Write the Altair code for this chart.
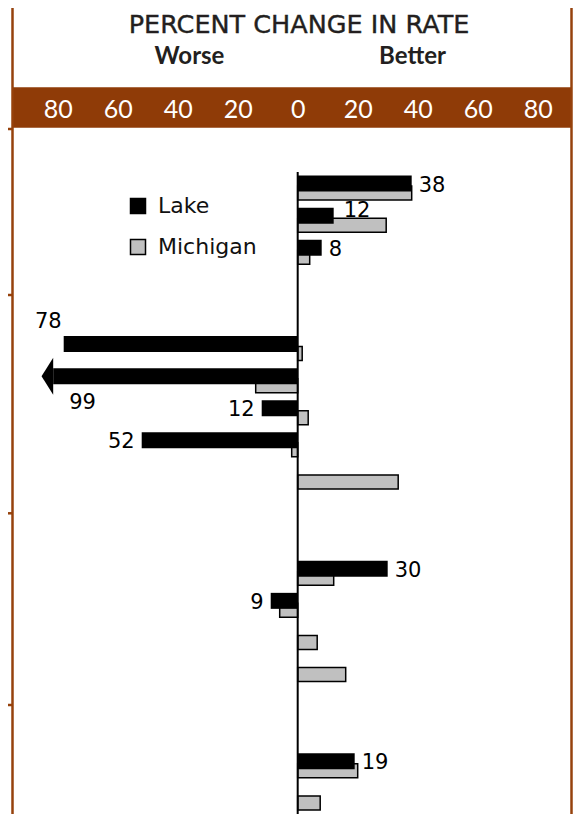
import altair as alt
import pandas as pd

# ---------------- data ----------------
title_text = "PERCENT CHANGE IN RATE"
side_labels = ["Worse", "Better"]
series = ["Lake", "Michigan"]
group_sizes = [3, 5, 4, 2]          # rows per group, 2 blank rows between groups
lake = [38, 12, 8, -78, -99, -12, -52, None, 30, -9, None, None, 19, None]
michigan = [38, 29.5, 4, 1.5, -14, 3.5, -2, 33.5, 12, -6, 6.5, 16, 20, 7.5]
tick_values = [-80, -60, -40, -20, 0, 20, 40, 60, 80]
CAP = -81.5                          # axis break: longer bars end in an arrow

# ---------------- tables ----------------
domain, rows = [], []
for g, n in enumerate(group_sizes):
    for i in range(n):
        rid = f"g{g}r{i}"
        domain.append(rid)
        rows.append(rid)
    if g < len(group_sizes) - 1:
        domain += [f"g{g}s1", f"g{g}s2"]

wide = pd.DataFrame({"row": rows, "lake": lake, "michigan": michigan})
long_rows = []
for r, l, m in zip(rows, lake, michigan):
    if l is not None:
        long_rows.append({"row": r, "series": "Lake", "value": l})
    long_rows.append({"row": r, "series": "Michigan", "value": m})
long = pd.DataFrame(long_rows)
one = pd.DataFrame({"k": [0]})

BROWN = "#8f3b07"
LINE = "#96420c"
W, H = 561, 642
LEFT = -95.233

x_scale = alt.Scale(domain=[LEFT, LEFT + W / 3], nice=False, zero=False)
y_scale = alt.Scale(domain=domain, paddingInner=0, paddingOuter=0)
color_scale = alt.Scale(domain=series, range=["black", "#c0c0c0"])
x_axis = alt.Axis(orient="top", values=tick_values, labelExpr="format(abs(datum.value), 'd')",
                  title=None, domain=False, ticks=False, tickSize=0, grid=False,
                  labelPadding=0, offset=55, labelFont="Lato", labelFontSize=25,
                  labelColor="white", labelBaseline="alphabetic", zindex=1,
                  labelFlush=False, labelOverlap=False)
legend = alt.Legend(orient="none", legendX=115, legendY=23, title=None,
                    symbolType="square", symbolSize=225, symbolStrokeColor="black",
                    symbolStrokeWidth=1.5, labelFont="DejaVu Sans", labelFontSize=22,
                    labelColor="#111111", labelOffset=9, rowPadding=19, padding=0,
                    direction="vertical", labelLimit=0)

Y = alt.Y("row:N", scale=y_scale, axis=None)

# ---------------- decorations ----------------
band = alt.Chart(one).mark_rect(color=BROWN).encode(
    x=alt.value(0), x2=alt.value(W - 1), y=alt.value(-84.7), y2=alt.value(-44.3))

title = alt.Chart(pd.DataFrame({"t": [title_text]})).mark_text(
    font="DejaVu Sans", fontSize=25.5, color="#231f20", stroke="#231f20",
    strokeWidth=0.4, align="center", baseline="alphabetic").encode(
    text="t:N", x=alt.value(287), y=alt.value(-139.5))

worse = alt.Chart(pd.DataFrame({"t": [side_labels[0]]})).mark_text(
    font="Lato", fontWeight="bold", fontSize=24, color="#231f20",
    align="center", baseline="alphabetic").encode(
    text="t:N", x=alt.value(177.5), y=alt.value(-108))
better = alt.Chart(pd.DataFrame({"t": [side_labels[1]]})).mark_text(
    font="Lato", fontWeight="bold", fontSize=24, color="#231f20",
    align="center", baseline="alphabetic").encode(
    text="t:N", x=alt.value(400.5), y=alt.value(-108))

left_line = alt.Chart(one).mark_rule(color=LINE, strokeWidth=2.5).encode(
    x=alt.value(0.5), y=alt.value(-164), y2=alt.value(H))
right_line = alt.Chart(one).mark_rule(color=LINE, strokeWidth=2.5).encode(
    x=alt.value(W - 1.5), y=alt.value(-164), y2=alt.value(H))
ticks = [alt.Chart(one).mark_rule(color=LINE, strokeWidth=2.5).encode(
    x=alt.value(-4), x2=alt.value(0.5), y=alt.value(v), y2=alt.value(v))
    for v in (-43, 123, 341.3, 533)]

# ---------------- data marks ----------------
base_w = alt.Chart(wide).transform_filter("datum.lake != null").transform_calculate(
    shown=f"max(datum.lake, {CAP})")

lab_kw = dict(font="DejaVu Sans", fontSize=21, color="black", baseline="middle", yOffset=-4.5)
X_lab = alt.X("shown:Q", scale=x_scale, axis=x_axis)

lab_pos = base_w.transform_filter(
    "datum.lake > 0 && !(datum.michigan > datum.lake + 5)").mark_text(
    align="left", dx=7, dy=2, **lab_kw).encode(x=X_lab, y=Y, text="lake:Q")
lab_raised = base_w.transform_filter(
    "datum.lake > 0 && datum.michigan > datum.lake + 5").mark_text(
    align="left", dx=10, dy=-5, **lab_kw).encode(x=X_lab, y=Y, text="lake:Q")
lab_neg = base_w.transform_filter("datum.lake < 0 && datum.lake >= -70").mark_text(
    align="right", dx=-7, dy=2, **lab_kw).encode(
    x=X_lab, y=Y, text=alt.Text("abs_l:Q")).transform_calculate(abs_l="abs(datum.lake)")
lab_above = base_w.transform_filter(f"datum.lake < -70 && datum.lake >= {CAP}").mark_text(
    align="right", dx=-2, dy=-22, **lab_kw).encode(
    x=X_lab, y=Y, text=alt.Text("abs_l:Q")).transform_calculate(abs_l="abs(datum.lake)")
lab_below = base_w.transform_filter(f"datum.lake < {CAP}").mark_text(
    align="left", dx=16, dy=27, **lab_kw).encode(
    x=X_lab, y=Y, text=alt.Text("abs_l:Q")).transform_calculate(abs_l="abs(datum.lake)")

bars_m = alt.Chart(long).transform_filter("datum.series == 'Michigan'").mark_bar(
    height=14, yOffset=5, stroke="black", strokeWidth=1.5).encode(
    x=alt.X("value:Q", scale=x_scale, axis=x_axis), x2=alt.X2(datum=0), y=Y,
    color=alt.Color("series:N", scale=color_scale, legend=legend))

bars_l = alt.Chart(long).transform_filter("datum.series == 'Lake'").transform_calculate(
    shown=f"max(datum.value, {CAP})").mark_bar(height=16, yOffset=-4.5).encode(
    x=alt.X("shown:Q", scale=x_scale, axis=x_axis), x2=alt.X2(datum=0), y=Y,
    color=alt.Color("series:N", scale=color_scale, legend=legend))

arrow = base_w.transform_filter(f"datum.lake < {CAP}").mark_point(
    shape="M0,-1L0,1L-0.63,0Z", size=1369, filled=True, color="black", opacity=1,
    yOffset=-4.5).encode(x=X_lab, y=Y)

zero = alt.Chart(one).mark_rule(color="black", strokeWidth=2).encode(
    x=alt.X(datum=0, scale=x_scale, axis=x_axis), y=alt.value(0), y2=alt.value(H))

chart = alt.layer(
    band, title, worse, better,
    lab_pos, lab_raised, lab_neg, lab_above, lab_below,
    bars_m, bars_l, arrow, zero, left_line, right_line, *ticks
).properties(
    width=W, height=H, autosize="none",
    padding={"left": 4, "top": 164, "right": 0, "bottom": 0},
    background="white",
).configure_view(stroke=None)

chart.save("out.html", embed_options={"renderer": "svg", "actions": False})
